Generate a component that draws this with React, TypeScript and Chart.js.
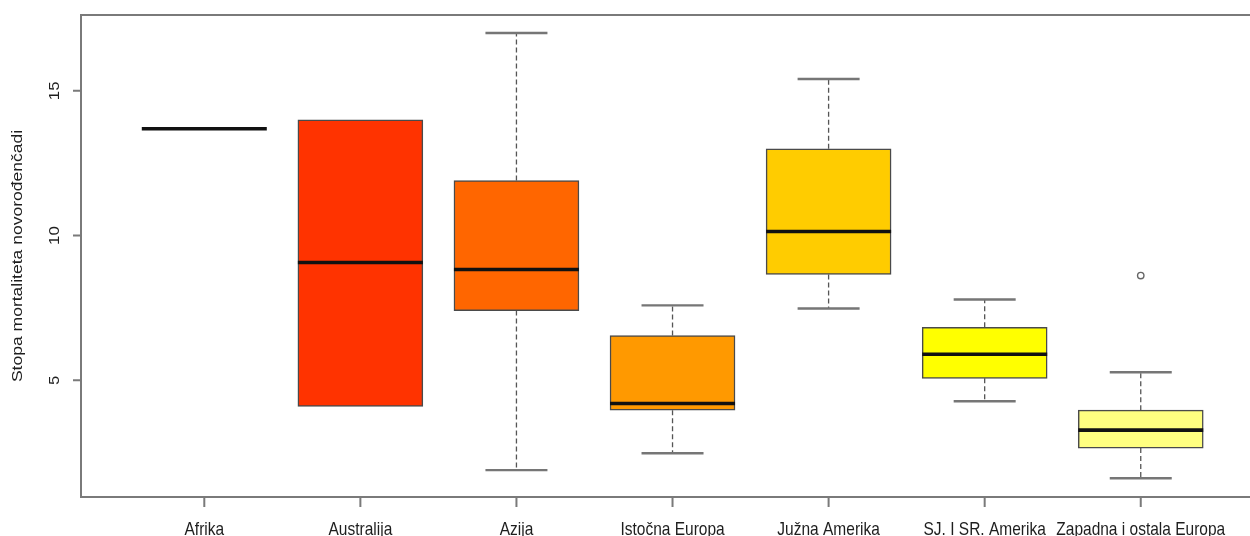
import React, { useEffect, useRef } from 'react';
import { Chart, registerables } from 'chart.js';

Chart.register(...registerables);

const categories = [
  'Afrika',
  'Australija',
  'Azija',
  'Istočna Europa',
  'Južna Amerika',
  'SJ. I SR. Amerika',
  'Zapadna i ostala Europa',
];
const positions = [1, 2, 3, 4, 5, 6, 7];
const whiskerLow = [13.69, 4.1, 1.9, 2.48, 7.48, 4.28, 1.62];
const q1 = [13.69, 4.1, 7.41, 3.97, 8.66, 5.07, 2.66];
const medians = [13.69, 9.07, 8.83, 4.2, 10.14, 5.9, 3.28];
const q3 = [13.69, 14.0, 11.9, 6.55, 13.0, 6.83, 3.97];
const whiskerHigh = [13.69, 14.0, 17.0, 7.59, 15.41, 7.79, 5.28];
const outliers: number[][] = [[], [], [], [], [], [], [8.62]];
const boxColors = ['#FF0000', '#FF3300', '#FF6600', '#FF9900', '#FFCC00', '#FFFF00', '#FFFF80'];
const yTicks = [5, 10, 15];
const yTitle = 'Stopa mortaliteta novorođenčadi';

const FONT = '"Liberation Sans", Arial, sans-serif';

function drawText(
  ctx: CanvasRenderingContext2D,
  text: string,
  x: number,
  y: number,
  size: number,
  rotated: boolean,
  stretch: number,
  baseline: CanvasTextBaseline
) {
  ctx.save();
  ctx.translate(x, y);
  if (rotated) {
    ctx.rotate(-Math.PI / 2);
    ctx.scale(stretch, 1);
  } else {
    ctx.scale(1, stretch);
  }
  ctx.font = `${size}px ${FONT}`;
  ctx.fillStyle = '#1e1e1e';
  ctx.textAlign = 'center';
  ctx.textBaseline = baseline;
  ctx.fillText(text, 0, 0);
  ctx.restore();
}

const boxplotPlugin = {
  id: 'boxplotExtras',
  beforeDatasetsDraw(chart: any) {
    const { ctx, scales } = chart;
    const xs = scales.x;
    const ys = scales.y;
    const staple = 31;
    ctx.save();
    positions.forEach((p, i) => {
      const x = xs.getPixelForValue(p);
      ctx.strokeStyle = '#555555';
      ctx.lineWidth = 1.3;
      ctx.setLineDash([5, 3]);
      ctx.beginPath();
      ctx.moveTo(x, ys.getPixelForValue(q3[i]));
      ctx.lineTo(x, ys.getPixelForValue(whiskerHigh[i]));
      ctx.moveTo(x, ys.getPixelForValue(q1[i]));
      ctx.lineTo(x, ys.getPixelForValue(whiskerLow[i]));
      ctx.stroke();
      ctx.setLineDash([]);
      if (whiskerHigh[i] > q3[i] || whiskerLow[i] < q1[i]) {
        ctx.strokeStyle = '#767676';
        ctx.lineWidth = 2.4;
        ctx.beginPath();
        const yh = ys.getPixelForValue(whiskerHigh[i]);
        const yl = ys.getPixelForValue(whiskerLow[i]);
        ctx.moveTo(x - staple, yh);
        ctx.lineTo(x + staple, yh);
        ctx.moveTo(x - staple, yl);
        ctx.lineTo(x + staple, yl);
        ctx.stroke();
      }
    });
    ctx.restore();
  },
  afterDatasetsDraw(chart: any) {
    const { ctx, scales } = chart;
    const xs = scales.x;
    const ys = scales.y;
    const half = 62.5;
    ctx.save();
    positions.forEach((p, i) => {
      const x = xs.getPixelForValue(p);
      const ym = ys.getPixelForValue(medians[i]);
      ctx.strokeStyle = '#111111';
      ctx.lineWidth = 3.6;
      ctx.lineCap = 'butt';
      ctx.beginPath();
      ctx.moveTo(x - half, ym);
      ctx.lineTo(x + half, ym);
      ctx.stroke();
      outliers[i].forEach((v) => {
        ctx.strokeStyle = '#666666';
        ctx.lineWidth = 1.4;
        ctx.beginPath();
        ctx.arc(x, ys.getPixelForValue(v), 3.2, 0, Math.PI * 2);
        ctx.stroke();
      });
    });
    ctx.restore();
  },
  afterDraw(chart: any) {
    const { ctx, scales, chartArea } = chart;
    const xs = scales.x;
    const ys = scales.y;
    const { left, top, right, bottom } = chartArea;
    ctx.save();
    ctx.strokeStyle = '#7a7a7a';
    ctx.lineWidth = 2;
    ctx.beginPath();
    ctx.moveTo(right + 5, top);
    ctx.lineTo(left, top);
    ctx.lineTo(left, bottom);
    ctx.lineTo(right + 5, bottom);
    ctx.stroke();
    ctx.beginPath();
    positions.forEach((p) => {
      const x = xs.getPixelForValue(p);
      ctx.moveTo(x, bottom);
      ctx.lineTo(x, bottom + 10);
    });
    yTicks.forEach((v) => {
      const y = ys.getPixelForValue(v);
      ctx.moveTo(left, y);
      ctx.lineTo(left - 8, y);
    });
    ctx.stroke();
    ctx.restore();

    positions.forEach((p, i) => {
      drawText(ctx, categories[i], xs.getPixelForValue(p), bottom + 38, 15.5, false, 1.2, 'alphabetic');
    });
    yTicks.forEach((v) => {
      drawText(ctx, String(v), 55, ys.getPixelForValue(v), 15.5, true, 1.08, 'middle');
    });
    drawText(ctx, yTitle, 18, (top + bottom) / 2, 15.5, true, 1.13, 'middle');
  },
};

export default function App() {
  const ref = useRef<HTMLCanvasElement>(null);
  useEffect(() => {
    if (!ref.current) return;
    const chart = new Chart(ref.current, {
      type: 'bar',
      data: {
        datasets: [
          {
            data: positions.map((p, i) => ({ x: p, y: [q1[i], q3[i]] })) as any,
            backgroundColor: boxColors,
            borderColor: '#4a4a4a',
            borderWidth: 1.5,
            borderSkipped: false,
            barThickness: 125,
          },
        ],
      },
      options: {
        responsive: false,
        animation: false,
        layout: { padding: { left: 81, top: 15, right: 0, bottom: 39 } },
        plugins: { legend: { display: false }, tooltip: { enabled: false } },
        scales: {
          x: { type: 'linear', min: 0.21, max: 7.7, offset: false, display: false },
          y: { type: 'linear', min: 0.97, max: 17.62, display: false },
        },
      },
      plugins: [boxplotPlugin],
    });
    return () => chart.destroy();
  }, []);
  return (
    <div style={{ position: 'fixed', left: 0, top: 0, width: 1250, height: 536, background: '#ffffff' }}>
      <canvas ref={ref} width={1250} height={536} style={{ display: 'block' }} />
    </div>
  );
}
